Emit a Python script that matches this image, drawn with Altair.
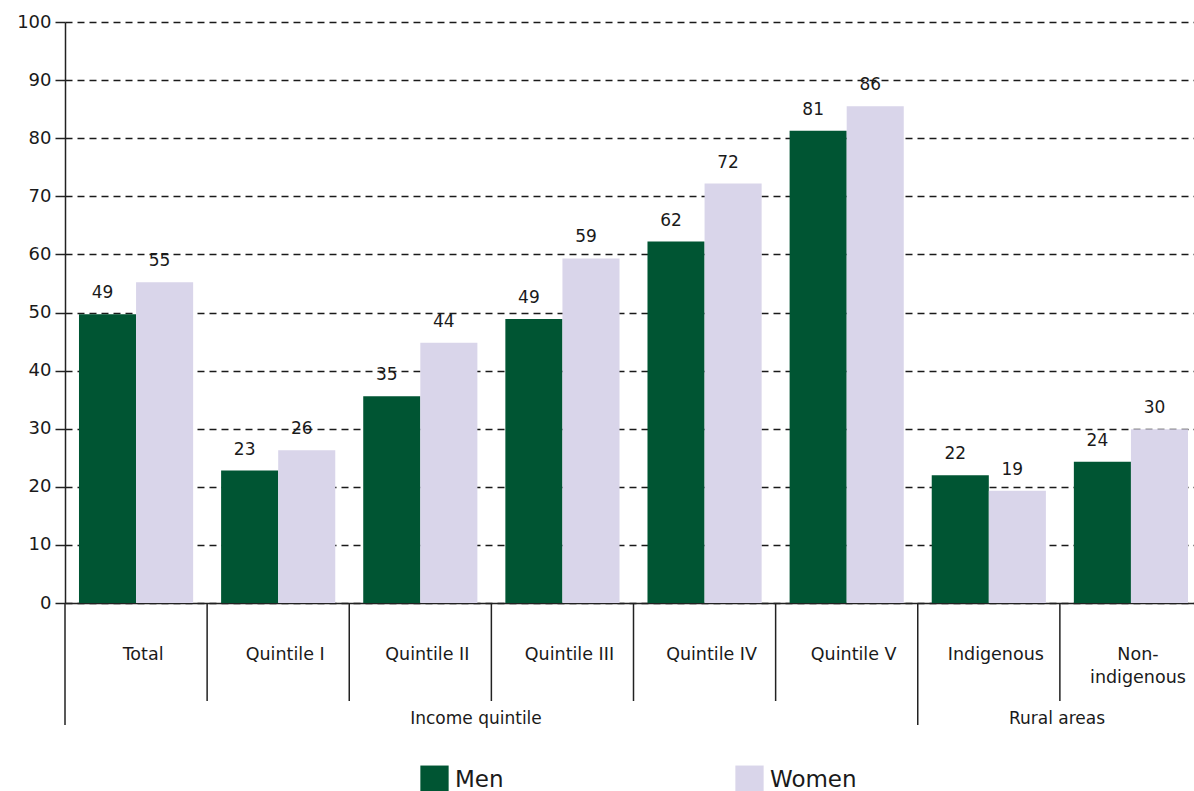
import altair as alt
import pandas as pd

categories = ["Total", "Quintile I", "Quintile II", "Quintile III",
              "Quintile IV", "Quintile V", "Indigenous", "Non-indigenous"]
display_names = ["Total", "Quintile I", "Quintile II", "Quintile III",
                 "Quintile IV", "Quintile V", "Indigenous", "Non-\nindigenous"]
men = [49.7, 22.8, 35.6, 48.9, 62.2, 81.3, 22.0, 24.3]
women = [55.2, 26.3, 44.8, 59.3, 72.2, 85.5, 19.3, 29.9]
men_labels = ["49", "23", "35", "49", "62", "81", "22", "24"]
women_labels = ["55", "26", "44", "59", "72", "86", "19", "30"]
series = ["Men", "Women"]
colors = ["#005533", "#D9D5EA"]
group_names = ["Income quintile", "Rural areas"]
y_ticks = list(range(0, 101, 10))

W, H = 1129, 581
BAND_SPAN = 1137  # category bands run a little past the right edge, as in the original
FONT = "DejaVu Sans"
TXT = "#1a1a1a"

rows = []
for c, m, w, ml, wl in zip(categories, men, women, men_labels, women_labels):
    rows.append({"cat": c, "series": "Men", "value": m, "label": ml})
    rows.append({"cat": c, "series": "Women", "value": w, "label": wl})
df = pd.DataFrame(rows)

xscale = alt.Scale(domain=categories, paddingInner=0.0, paddingOuter=0.0,
                   range=[0, BAND_SPAN])
x_enc = alt.X("cat:N", scale=xscale, sort=categories,
              axis=alt.Axis(labels=False, ticks=False, title=None, domain=True,
                            domainColor="#222", domainWidth=1.5, grid=False))
off_enc = alt.XOffset("series:N", sort=series,
                      scale=alt.Scale(domain=series, paddingInner=0, paddingOuter=0.245))

base = alt.Chart(df)

bars = base.mark_bar().encode(
    x=x_enc,
    xOffset=off_enc,
    y=alt.Y("value:Q", scale=alt.Scale(domain=[0, 100], nice=False),
            axis=alt.Axis(values=y_ticks, title=None, grid=True, gridDash=[7, 5],
                          gridColor="#1a1a1a", gridWidth=1.4, domainColor="#222",
                          domainWidth=1.5, tickColor="#222", tickSize=10, tickWidth=1.5,
                          labelFontSize=18, labelFont=FONT, labelColor=TXT,
                          labelPadding=4)),
    color=alt.Color("series:N", sort=series,
                    scale=alt.Scale(domain=series, range=colors),
                    legend=alt.Legend(title=None, orient="none", legendX=355, legendY=743,
                                      direction="horizontal", symbolType="square",
                                      symbolSize=800, symbolStrokeWidth=0,
                                      labelFontSize=23, labelFont=FONT, labelColor=TXT,
                                      labelOffset=6, columnPadding=231)),
)

labels = base.mark_text(baseline="bottom", dy=-12, dx=-5, fontSize=17,
                        font=FONT, color=TXT).encode(
    x=x_enc,
    xOffset=off_enc,
    y="value:Q",
    text="label:N",
)

cat_df = pd.DataFrame({"cat": categories, "name": display_names})
cat_text = alt.Chart(cat_df).mark_text(fontSize=17.5, font=FONT, color=TXT,
                                        lineBreak="\n", baseline="middle",
                                        lineHeight=23, dx=7).encode(
    x=alt.X("cat:N", scale=xscale, sort=categories),
    y=alt.value(H + 52),
    text="name:N",
)

sep_df = pd.DataFrame({"cat": categories,
                       "long": [True, False, False, False, False, False, True, False]})
sep_short = alt.Chart(sep_df).transform_filter("!datum.long").mark_rule(
    color="#222", strokeWidth=1.5).encode(
    x=alt.X("cat:N", scale=xscale, sort=categories, bandPosition=0),
    y=alt.value(H), y2=alt.value(H + 98),
)
sep_long = alt.Chart(sep_df).transform_filter("datum.long").mark_rule(
    color="#222", strokeWidth=1.5).encode(
    x=alt.X("cat:N", scale=xscale, sort=categories, bandPosition=0),
    y=alt.value(H), y2=alt.value(H + 122),
)

grp_df = pd.DataFrame({"name": group_names, "px": [411, 992]})
grp_text = alt.Chart(grp_df).mark_text(fontSize=17, font=FONT, color=TXT,
                                        baseline="middle").encode(
    x=alt.X("px:Q", scale=None),
    y=alt.value(H + 116),
    text="name:N",
)

chart = alt.layer(bars, labels, cat_text, sep_short, sep_long, grp_text).properties(
    width=W, height=H,
    autosize=alt.AutoSizeParams(type="none"),
    padding={"left": 65, "top": 22, "right": 0, "bottom": 188},
).configure_view(stroke=None)

chart.save("out.html", embed_options={"renderer": "svg", "actions": False})
